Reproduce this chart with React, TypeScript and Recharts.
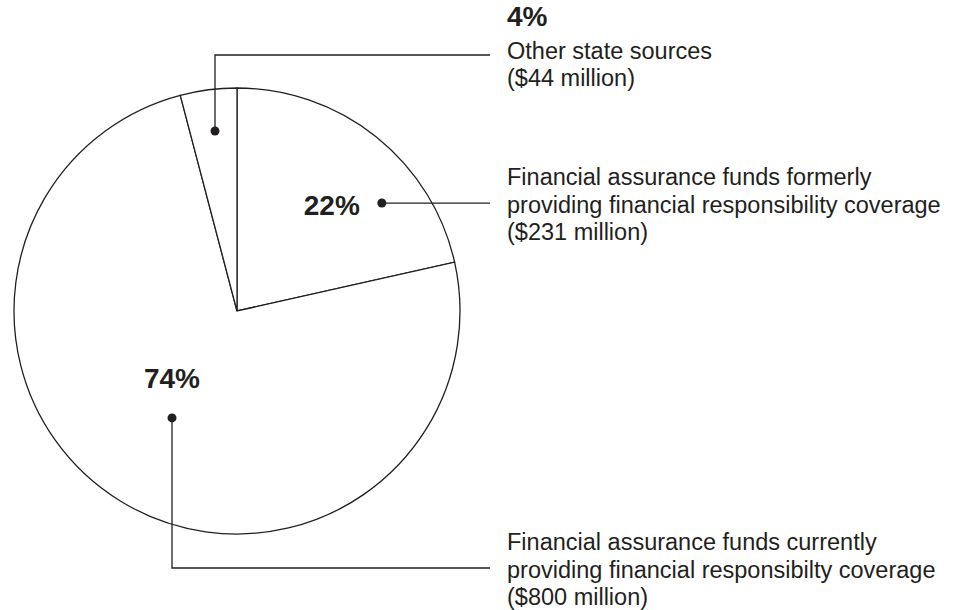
import React from "react";
import { PieChart, Pie, Cell } from "recharts";

// ---- data ----
const sliceKeys = ["formerly", "currently", "other"];
const amounts = [231, 800, 44]; // $ million
const percentLabels = ["22%", "74%", "4%"];
const descriptionLines = [
  ["Financial assurance funds formerly", "providing financial responsibility coverage"],
  ["Financial assurance funds currently", "providing financial responsibilty coverage"],
  ["Other state sources"],
];

const data = sliceKeys.map((k, i) => ({ name: k, value: amounts[i] }));

// ---- style / layout ----
const INK = "#231f20";
const FONT = '"Liberation Sans", Arial, Helvetica, sans-serif';
const TEXT_SIZE = 23.5;
const PCT_SIZE = 28;
const LINE_STEP = 27.5;
const LEADER_END_X = 490;
const TEXT_X = 507;

type Layout = {
  dotAngle: number;
  dotR: number;
  elbowY: number | null;
  pctInline: boolean;
  pctDx: number;
  pctDy: number;
  pctAnchor: "start" | "middle" | "end";
  firstBaseline: number;
  pctBaseline?: number;
};

const layout: Layout[] = [
  { dotAngle: 36.7, dotR: 0.81, elbowY: null, pctInline: true, pctDx: -22, pctDy: 12, pctAnchor: "end", firstBaseline: 185 },
  { dotAngle: 238.7, dotR: 0.561, elbowY: 568, pctInline: true, pctDx: 0, pctDy: -30, pctAnchor: "middle", firstBaseline: 550 },
  { dotAngle: 96.97, dotR: 0.813, elbowY: 55, pctInline: false, pctDx: 0, pctDy: 0, pctAnchor: "start", firstBaseline: 58.5, pctBaseline: 26 },
];

const renderLabel = (props: any) => {
  const { cx, cy, outerRadius, index } = props;
  const L = layout[index];
  const a = (L.dotAngle * Math.PI) / 180;
  const x = cx + L.dotR * outerRadius * Math.cos(a);
  const y = cy - L.dotR * outerRadius * Math.sin(a);
  const lines = [...descriptionLines[index], `($${amounts[index]} million)`];
  const leaderY = L.elbowY === null ? y : L.elbowY;
  const path =
    L.elbowY === null
      ? `M${x},${y} L${LEADER_END_X},${y}`
      : `M${x},${y} L${x},${L.elbowY} L${LEADER_END_X},${L.elbowY}`;
  return (
    <g key={`lbl-${index}`}>
      <path d={path} fill="none" stroke={INK} strokeWidth={1.3} />
      <circle cx={x} cy={y} r={4.5} fill={INK} />
      {L.pctInline ? (
        <text
          x={x + L.pctDx}
          y={y + L.pctDy}
          textAnchor={L.pctAnchor}
          fontFamily={FONT}
          fontSize={PCT_SIZE}
          fontWeight="bold"
          fill={INK}
        >
          {percentLabels[index]}
        </text>
      ) : (
        <text x={TEXT_X} y={L.pctBaseline} textAnchor="start" fontFamily={FONT} fontSize={PCT_SIZE} fontWeight="bold" fill={INK}>
          {percentLabels[index]}
        </text>
      )}
      {lines.map((t, i) => (
        <text
          key={i}
          x={TEXT_X}
          y={L.firstBaseline + i * LINE_STEP}
          textAnchor="start"
          fontFamily={FONT}
          fontSize={TEXT_SIZE}
          fill={INK}
        >
          {t}
        </text>
      ))}
    </g>
  );
};

export default function App() {
  return (
    <div style={{ position: "absolute", left: 0, top: 0, width: 964, height: 610, background: "#fff" }}>
      <PieChart width={964} height={610} margin={{ top: 0, right: 0, bottom: 0, left: 0 }}>
        <Pie
          data={data}
          dataKey="value"
          nameKey="name"
          cx={237}
          cy={311}
          innerRadius={0}
          outerRadius={223}
          startAngle={90}
          endAngle={-270}
          stroke={INK}
          strokeWidth={1.3}
          label={renderLabel}
          labelLine={false}
          isAnimationActive={false}
        >
          {data.map((d) => (
            <Cell key={d.name} fill="#ffffff" stroke={INK} strokeWidth={1.3} />
          ))}
        </Pie>
      </PieChart>
    </div>
  );
}
